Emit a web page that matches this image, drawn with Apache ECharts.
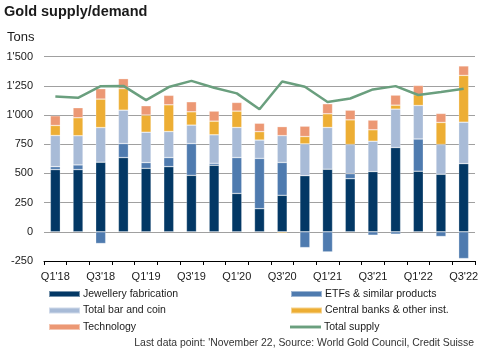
<!DOCTYPE html>
<html>
<head>
<meta charset="utf-8">
<script src="https://cdn.jsdelivr.net/npm/echarts@6/dist/echarts.min.js"></script>
<style>
html,body{margin:0;padding:0;background:#fff;}
#chart{width:491px;height:360px;}
</style>
</head>
<body>
<div id="chart"></div>
<script>
var categories = ["Q1'18","Q2'18","Q3'18","Q4'18","Q1'19","Q2'19","Q3'19","Q4'19","Q1'20","Q2'20","Q3'20","Q4'20","Q1'21","Q2'21","Q3'21","Q4'21","Q1'22","Q2'22","Q3'22"];
var jewellery = [533,533,596,636,544,558,484,570,329,198,313,481,536,455,516,722,519,493,584];
var etfs      = [25,40,-100,120,49,78,272,17,307,431,281,-135,-172,43,-29,-20,276,-40,-229];
var barCoin   = [267,250,297,286,260,223,158,244,258,157,230,272,358,250,260,329,287,255,355];
var central   = [86,154,244,184,147,229,114,117,140,72,-10,63,117,211,98,34,92,189,401];
var technology= [83,86,89,86,80,81,86,86,74,72,77,89,86,83,83,86,80,77,81];
var totalSupply=[1160,1148,1247,1250,1128,1240,1293,1234,1186,1050,1288,1243,1112,1142,1220,1248,1172,1197,1225];
var yTicks = [-250,0,250,500,750,1000,1250,1500];

var names = ['Jewellery fabrication','ETFs & similar products','Total bar and coin','Central banks & other inst.','Technology','Total supply'];
var colors = ['#033865','#4f7baf','#a8bbd7','#edae34','#ec9874','#6a9f7e'];
var FONT = '"Liberation Sans", Arial, sans-serif';

function fmt(v){
  var s = String(Math.abs(v));
  if (s.length > 3) s = s.slice(0, s.length-3) + "'" + s.slice(s.length-3);
  return (v < 0 ? '-' : '') + s;
}

function barSeries(i, data){
  return {
    name: names[i], type: 'bar', stack: 'total', stackStrategy: 'samesign',
    data: data, barWidth: 10, xAxisIndex: 0, yAxisIndex: 0,
    itemStyle: {color: colors[i], borderColor: 'rgba(255,255,255,0.45)', borderWidth: 0.6},
    emphasis: {disabled: true}
  };
}

function legendAt(name, left, top, isLine){
  var d = isLine
    ? {name: name, icon: 'path://M0,0 L32,0 L32,3 L0,3 Z', itemStyle: {color: colors[5]}}
    : {name: name, icon: 'rect'};
  return {
    data: [d], left: left, top: top, padding: 0,
    itemWidth: 31, itemHeight: isLine ? 3 : 6, itemGap: 0,
    selectedMode: false,
    textStyle: {fontFamily: FONT, fontSize: 10.5, color: '#1a1a1a', padding: [0,0,0,-2]}
  };
}

var chart = echarts.init(document.getElementById('chart'), null, {renderer: 'canvas'});
chart.setOption({
  animation: false,
  backgroundColor: '#fff',
  grid: {left: 44, right: 16, top: 56.7, bottom: 99, containLabel: false},
  xAxis: [
    {type: 'category', data: categories, position: 'bottom',
     axisLine: {show: false}, axisTick: {show: false},
     axisLabel: {interval: 1, margin: 10, fontFamily: FONT, fontSize: 11, color: '#1a1a1a'}},
    {type: 'category', data: categories, position: 'bottom',
     axisLine: {show: true, onZero: true, lineStyle: {color: '#000', width: 1}},
     axisTick: {show: true, interval: 0, length: 4, lineStyle: {color: '#000', width: 1}},
     axisLabel: {show: false}}
  ],
  yAxis: {
    type: 'value', min: -250, max: 1500, interval: 250,
    axisLine: {show: false}, axisTick: {show: false},
    splitLine: {lineStyle: {color: '#a0a0a0', width: 1}},
    axisLabel: {margin: 11, fontFamily: FONT, fontSize: 11, color: '#1a1a1a',
      formatter: function(v){ return yTicks.indexOf(v) >= 0 ? fmt(v) : ''; }}
  },
  legend: [
    legendAt(names[0], 48, 288.5, false),
    legendAt(names[2], 48, 305, false),
    legendAt(names[4], 48, 321.5, false),
    legendAt(names[1], 290, 288.5, false),
    legendAt(names[3], 290, 305, false),
    legendAt(names[5], 290, 321.5, true)
  ],
  series: [
    barSeries(0, jewellery),
    barSeries(1, etfs),
    barSeries(2, barCoin),
    barSeries(3, central),
    barSeries(4, technology),
    {name: names[5], type: 'line', data: totalSupply, xAxisIndex: 0, yAxisIndex: 0,
     symbol: 'none', showSymbol: false, z: 5,
     lineStyle: {color: colors[5], width: 2.5}, itemStyle: {color: colors[5]},
     emphasis: {disabled: true}}
  ],
  graphic: [
    {type: 'text', left: 4, top: 4, style: {text: 'Gold supply/demand', font: 'bold 14.5px ' + FONT, fill: '#1a1a1a'}},
    {type: 'text', left: 7, top: 31, style: {text: 'Tons', font: '13px ' + FONT, fill: '#1a1a1a'}},
    {type: 'text', right: 17, top: 338, style: {text: "Last data point: 'November 22, Source: World Gold Council, Credit Suisse", font: '10.4px ' + FONT, fill: '#333'}}
  ]
});
</script>
</body>
</html>
